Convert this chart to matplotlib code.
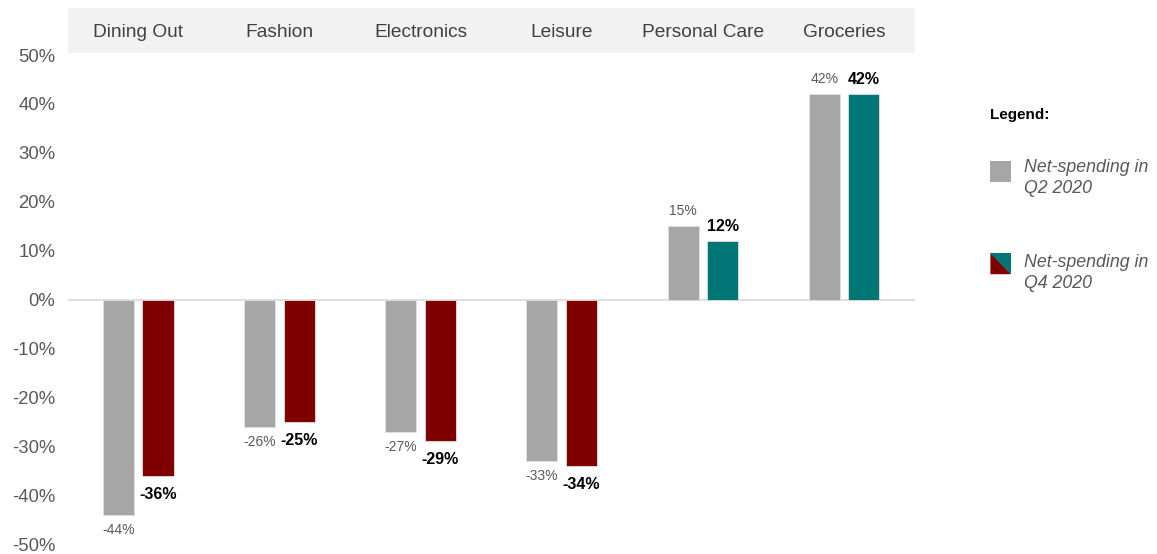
"""
Net-spending by category, Q2 2020 vs Q4 2020
"""

import matplotlib.pyplot as plt
import matplotlib.ticker as mticker
from matplotlib.patches import Rectangle, Polygon
from matplotlib.transforms import blended_transform_factory

categories = ['Dining Out', 'Fashion', 'Electronics', 'Leisure',
              'Personal Care', 'Groceries']
q2_values = [-44, -26, -27, -33, 15, 42]
q4_values = [-36, -25, -29, -34, 12, 42]
y_ticks = [-50, -40, -30, -20, -10, 0, 10, 20, 30, 40, 50]

GRAY = '#a6a6a6'
RED = '#800000'
TEAL = '#007575'
TEXT = '#595959'

plt.rcParams['font.family'] = ['Liberation Sans', 'DejaVu Sans']


def main():
    fig = plt.figure(figsize=(11.57, 5.54), dpi=100)
    ax = fig.add_axes([0.0585, 0.018, 0.732, 0.8827])

    x = range(len(categories))
    width = 0.22
    q4_colors = [TEAL if v > 0 else RED for v in q4_values]
    ax.bar([i - 0.14 for i in x], q2_values, width, color=GRAY,
           edgecolor='#e0e0e0', linewidth=0.6, zorder=3)
    ax.bar([i + 0.14 for i in x], q4_values, width, color=q4_colors,
           edgecolor='#e0e0e0', linewidth=0.6, zorder=3)

    # подписи значений
    for i, (a, b) in enumerate(zip(q2_values, q4_values)):
        off_a = 6 if a > 0 else -6
        ax.annotate(f'{a}%', (i - 0.14, a), xytext=(0, off_a),
                    textcoords='offset points', ha='center',
                    va='bottom' if a > 0 else 'top',
                    fontsize=10, color=TEXT)
        off_b = 5 if b > 0 else -8
        ax.annotate(f'{b}%', (i + 0.14, b), xytext=(0, off_b),
                    textcoords='offset points', ha='center',
                    va='bottom' if b > 0 else 'top',
                    fontsize=11.5, fontweight='bold', color='black')

    ax.axhline(0, color='#d9d9d9', linewidth=1.2, zorder=2)
    ax.set_xlim(-0.5, len(categories) - 0.5)
    ax.set_ylim(-50, 50)
    ax.set_yticks(y_ticks)
    ax.yaxis.set_major_formatter(
        mticker.FuncFormatter(lambda v, _: f'{v:.0f}%'))
    ax.tick_params(axis='y', length=0, labelsize=13.3, labelcolor=TEXT,
                   pad=9)
    ax.set_xticks([])
    for s in ax.spines.values():
        s.set_visible(False)

    # шапка с категориями
    trans = blended_transform_factory(ax.transData, ax.transAxes)
    ax.add_patch(Rectangle((-0.5, 1.004), len(categories), 0.092,
                           transform=trans, facecolor='#f2f2f2',
                           edgecolor='none', clip_on=False))
    for i, name in enumerate(categories):
        ax.text(i, 1.046, name, transform=trans, ha='center', va='center',
                fontsize=13.8, color='#404040')

    # легенда
    fig.text(0.856, 0.793, 'Legend:', fontsize=11, fontweight='bold',
             va='center')
    fig.patches.append(Rectangle((0.856, 0.671), 0.018, 0.039,
                                 transform=fig.transFigure,
                                 facecolor=GRAY, edgecolor='none'))
    fig.text(0.885, 0.679, 'Net-spending in\nQ2 2020', fontsize=12.8,
             style='italic', color=TEXT, va='center', linespacing=1.3)
    x0, y0, w, h = 0.856, 0.505, 0.018, 0.039
    fig.patches.append(Polygon([(x0, y0), (x0, y0 + h), (x0 + w, y0)],
                               closed=True, transform=fig.transFigure,
                               facecolor=RED, edgecolor='none'))
    fig.patches.append(Polygon([(x0, y0 + h), (x0 + w, y0 + h), (x0 + w, y0)],
                               closed=True, transform=fig.transFigure,
                               facecolor=TEAL, edgecolor='none'))
    fig.text(0.885, 0.507, 'Net-spending in\nQ4 2020', fontsize=12.8,
             style='italic', color=TEXT, va='center', linespacing=1.3)

    fig.savefig('out.png', dpi=100)
    plt.close(fig)


if __name__ == '__main__':
    main()
